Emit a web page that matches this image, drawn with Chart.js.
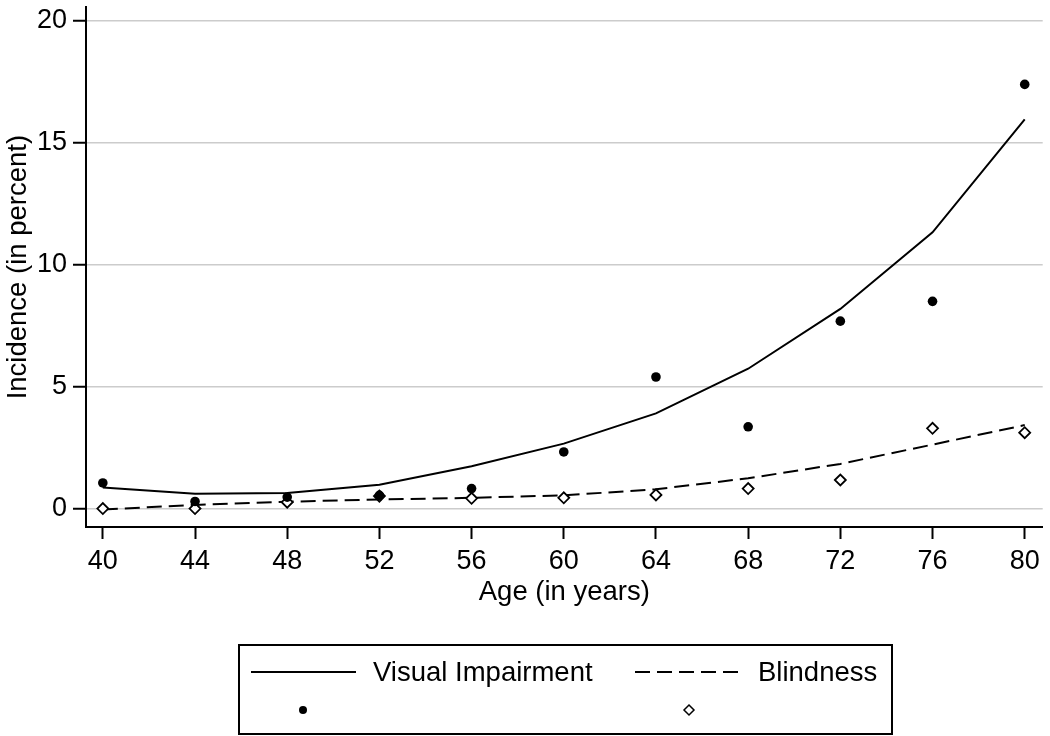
<!DOCTYPE html>
<html>
<head>
<meta charset="utf-8">
<title>Incidence by age</title>
<script src="https://cdn.jsdelivr.net/npm/chart.js@4.4.1/dist/chart.umd.min.js"></script>
<style>
    body { margin: 0; background: #fff; }
    #wrap { width: 1050px; height: 736px; position: relative; }
</style>
</head>
<body>
<div id="wrap"><canvas id="incidence_chart"></canvas></div>
<script>
// ages (x) and the four series
const ages = [40, 44, 48, 52, 56, 60, 64, 68, 72, 76, 80];
const viFitted = [0.86, 0.61, 0.64, 0.98, 1.73, 2.66, 3.90, 5.73, 8.18, 11.32, 15.95];
const blindFitted = [-0.04, 0.15, 0.28, 0.37, 0.44, 0.54, 0.79, 1.24, 1.83, 2.62, 3.42];
const viObserved = [1.05, 0.29, 0.47, 0.54, 0.82, 2.32, 5.39, 3.35, 7.68, 8.49, 17.38];
const blindObserved = [0.0, 0.0, 0.26, 0.51, 0.42, 0.44, 0.56, 0.82, 1.17, 3.29, 3.11];
const xTicks = [40, 44, 48, 52, 56, 60, 64, 68, 72, 76, 80];
const yTicks = [0, 5, 10, 15, 20];

const FONT = "'Liberation Sans', Arial, sans-serif";
const DASH = [15, 7];

function toPoints(ys) {
    return ages.map((a, i) => ({ x: a, y: ys[i] }));
}

// Stata-style legend box drawn under the plot
const boxLegend = {
    id: 'boxLegend',
    afterDraw(chart) {
        const ctx = chart.ctx;
        ctx.save();
        ctx.strokeStyle = '#000';
        ctx.lineWidth = 2;
        ctx.strokeRect(239, 645, 653, 89);

        ctx.lineWidth = 2;
        ctx.beginPath();
        ctx.moveTo(251, 672);
        ctx.lineTo(356, 672);
        ctx.stroke();

        ctx.setLineDash(DASH);
        ctx.beginPath();
        ctx.moveTo(635, 672);
        ctx.lineTo(743, 672);
        ctx.stroke();
        ctx.setLineDash([]);

        ctx.fillStyle = '#000';
        ctx.font = '27.5px ' + FONT;
        ctx.textBaseline = 'middle';
        ctx.fillText('Visual Impairment', 373, 673);
        ctx.fillText('Blindness', 758, 673);

        ctx.beginPath();
        ctx.arc(303, 710, 4, 0, Math.PI * 2);
        ctx.fill();

        ctx.fillStyle = '#fff';
        ctx.lineWidth = 1.5;
        ctx.beginPath();
        ctx.moveTo(689, 705);
        ctx.lineTo(694, 710);
        ctx.lineTo(689, 715);
        ctx.lineTo(684, 710);
        ctx.closePath();
        ctx.fill();
        ctx.stroke();
        ctx.restore();
    }
};

document.addEventListener('DOMContentLoaded', function () {
    const ctx = document.getElementById('incidence_chart').getContext('2d');
    new Chart(ctx, {
        type: 'scatter',
        data: {
            datasets: [{
                label: 'Visual Impairment',
                data: toPoints(viFitted),
                showLine: true,
                borderColor: '#000',
                borderWidth: 2,
                pointRadius: 0,
                order: 4
            }, {
                label: 'Blindness',
                data: toPoints(blindFitted),
                showLine: true,
                borderColor: '#000',
                borderWidth: 2,
                borderDash: DASH,
                pointRadius: 0,
                order: 3
            }, {
                label: 'Blindness observed',
                data: toPoints(blindObserved),
                pointStyle: 'rectRot',
                pointRadius: 5.5,
                backgroundColor: '#fff',
                borderColor: '#000',
                borderWidth: 1.8,
                order: 2
            }, {
                label: 'Visual Impairment observed',
                data: toPoints(viObserved),
                pointStyle: 'circle',
                pointRadius: 4.8,
                backgroundColor: '#000',
                borderColor: '#000',
                borderWidth: 0,
                order: 1
            }]
        },
        options: {
            responsive: true,
            maintainAspectRatio: false,
            animation: false,
            layout: { padding: { top: 0, right: 3, bottom: 109, left: 0 } },
            plugins: {
                legend: { display: false },
                tooltip: { enabled: false }
            },
            scales: {
                x: {
                    type: 'linear',
                    min: 39.27,
                    max: 80.78,
                    afterBuildTicks: (scale) => { scale.ticks = xTicks.map(v => ({ value: v })); },
                    afterFit: (scale) => {
                        scale.height = 100;
                        scale.paddingLeft = 0;
                        scale.paddingRight = 0;
                    },
                    grid: { drawOnChartArea: false, drawTicks: true, tickLength: 12, tickColor: '#000', tickWidth: 2 },
                    border: { color: '#000', width: 2 },
                    ticks: { color: '#000', padding: 6, font: { family: FONT, size: 27 } },
                    title: {
                        display: true,
                        text: 'Age (in years)',
                        color: '#000',
                        padding: { top: 0, bottom: 18 },
                        font: { family: FONT, size: 27.5 }
                    }
                },
                y: {
                    type: 'linear',
                    min: -0.756,
                    max: 20.54,
                    afterBuildTicks: (scale) => { scale.ticks = yTicks.map(v => ({ value: v })); },
                    afterFit: (scale) => {
                        scale.width = 86;
                        scale.paddingTop = 0;
                        scale.paddingBottom = 0;
                    },
                    grid: { color: '#cccccc', lineWidth: 1.5, tickLength: 13, tickColor: '#000', tickWidth: 2 },
                    border: { color: '#000', width: 2 },
                    ticks: { color: '#000', padding: 6, font: { family: FONT, size: 27 } },
                    title: {
                        display: true,
                        text: 'Incidence (in percent)',
                        color: '#000',
                        padding: { top: 2, bottom: 0 },
                        font: { family: FONT, size: 27.5 }
                    }
                }
            }
        },
        plugins: [boxLegend]
    });
});
</script>
</body>
</html>
